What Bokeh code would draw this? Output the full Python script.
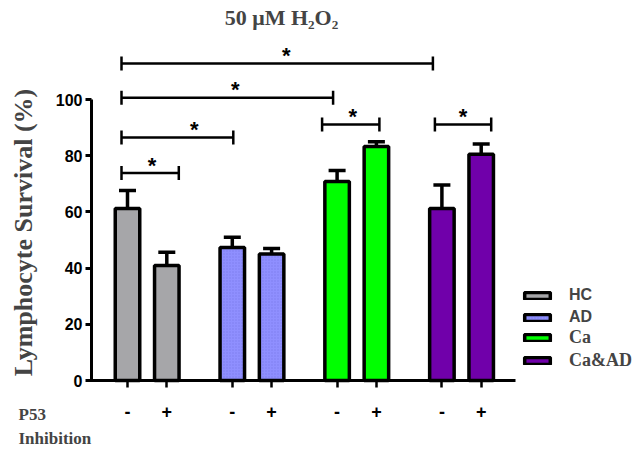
import math
from bokeh.plotting import figure
from bokeh.models import (Range1d, FixedTicker, Whisker, TeeHead, Label, Legend,
                          LegendItem, ColumnDataSource)
from bokeh.core.properties import value
from bokeh.embed import file_html
from bokeh.resources import INLINE

# ---------------- data ----------------
groups = ["HC", "AD", "Ca", "Ca&AD"]
colors = ["#a6a6a9", "#8f8fff", "#00ff00", "#7000aa"]
inhibition_labels = ["-", "+"]
mean_minus = [61.2, 47.3, 70.8, 61.2]   # P53 inhibition "-"
mean_plus = [40.9, 45.0, 83.3, 80.5]    # P53 inhibition "+"
err_minus = [6.4, 3.7, 3.9, 8.4]
err_plus = [4.7, 2.0, 1.7, 3.7]
y_ticks = [0, 20, 40, 60, 80, 100]

# significance brackets: bar index from/to, bracket height, label
sig_from = [0, 0, 0, 0, 4, 6]
sig_to = [6, 4, 2, 1, 5, 7]
sig_height = [112.8, 100.6, 86.5, 73.8, 91.1, 91.1]
sig_text = ["*", "*", "*", "*", "*", "*"]
# pixel nudges of bracket ends and star (as drawn in the original)
sig_left_px = [-6, -6, -6, -6, -15, -7]
sig_right_px = [-9, -4, 1, 12, 3, 10]
sig_star_px = [9, 8, 17, 2, 2, 0]

# ---------------- geometry ----------------
PXX = 13.1            # px per x unit
PXY = 2.81            # px per y unit
GROUP_STEP = 8
PAIR_STEP = 3
X0_PX, Y0_PX = 127, 380   # pixel of first bar centre / of y = 0

W, H = 638, 449
x_start = (0 - X0_PX) / PXX
x_end = (W - X0_PX) / PXX
y_start = (Y0_PX - H) / PXY
y_end = Y0_PX / PXY

def xd(px):
    return (px - X0_PX) / PXX

def yd(py):
    return (Y0_PX - py) / PXY

xs, tops, errs, tick_labels = [], [], [], {}
for g in range(len(groups)):
    for j, (m, e) in enumerate([(mean_minus[g], err_minus[g]), (mean_plus[g], err_plus[g])]):
        x = g * GROUP_STEP + j * PAIR_STEP
        xs.append(x)
        tops.append(m)
        errs.append(e)
        tick_labels[x] = inhibition_labels[j]

p = figure(width=W, height=H, output_backend="svg", toolbar_location=None,
           x_range=Range1d(x_start, x_end), y_range=Range1d(y_start, y_end),
           min_border_left=0, min_border_right=0, min_border_bottom=0,
           min_border_top=0)
p.outline_line_color = None
p.xgrid.visible = False
p.ygrid.visible = False
p.background_fill_color = "white"

# bars, one renderer per group (for the legend)
bar_w = 24.5 / PXX
renderers = []
for g in range(len(groups)):
    src = ColumnDataSource(dict(x=xs[2 * g:2 * g + 2], top=tops[2 * g:2 * g + 2]))
    kw = {}
    if groups[g] == "AD":
        kw = dict(hatch_pattern="dot", hatch_color="#6f6fe0", hatch_scale=3, hatch_alpha=0.6)
    r = p.vbar(x="x", top="top", bottom=0, width=bar_w, source=src,
               fill_color=colors[g], line_color="black", line_width=3.5, **kw)
    renderers.append(r)

# error bars
esrc = ColumnDataSource(dict(base=xs, lower=tops, upper=[t + e for t, e in zip(tops, errs)]))
p.add_layout(Whisker(base="base", lower="lower", upper="upper", source=esrc,
                     line_width=3.5, line_color="black", lower_head=None,
                     upper_head=TeeHead(size=17, line_width=3.5, line_color="black"),
                     level="glyph"))

# significance brackets
bx0, bx1, by, vx, vy0, vy1, sx, sy = [], [], [], [], [], [], [], []
tick_h = 7 / PXY
for f, t, h, lp, rp, sp in zip(sig_from, sig_to, sig_height, sig_left_px, sig_right_px, sig_star_px):
    x0 = xs[f] + lp / PXX
    x1 = xs[t] + rp / PXX
    bx0.append(x0); bx1.append(x1); by.append(h)
    vx += [x0, x1]; vy0 += [h - tick_h, h - tick_h]; vy1 += [h + tick_h, h + tick_h]
    sx.append((x0 + x1) / 2 + sp / PXX)
    sy.append(h + 8 / PXY)
p.segment(x0=bx0, x1=bx1, y0=by, y1=by, line_color="black", line_width=2.5)
p.segment(x0=vx, x1=vx, y0=vy0, y1=vy1, line_color="black", line_width=2.5)
p.text(x=sx, y=sy, text=sig_text, text_font=value("Liberation Sans"),
       text_font_style="bold", text_font_size="22px", text_align="center",
       text_baseline="middle", text_color="black")

# axes (fixed inside the frame)
yaxis_x = xd(91)
yax = p.yaxis[0]
yax.fixed_location = yaxis_x
yax.bounds = (0, 100)
yax.ticker = FixedTicker(ticks=y_ticks)
yax.axis_line_width = 3
yax.major_tick_line_width = 3
yax.major_tick_out = 6
yax.major_tick_in = 0
yax.minor_tick_line_color = None
yax.major_label_standoff = 3
yax.major_label_text_font = "Liberation Sans"
yax.major_label_text_font_style = "bold"
yax.major_label_text_font_size = "16px"
yax.major_label_text_color = "black"

xax = p.xaxis[0]
xax.fixed_location = 0
xax.bounds = (yaxis_x - 1.5 / PXX, xd(515))
xax.ticker = FixedTicker(ticks=xs)
xax.major_label_overrides = tick_labels
xax.axis_line_width = 3
xax.major_tick_line_width = 2.5
xax.major_tick_out = 7
xax.major_tick_in = 0
xax.minor_tick_line_color = None
xax.major_label_standoff = 17
xax.major_label_text_font = "Liberation Sans"
xax.major_label_text_font_style = "bold"
xax.major_label_text_font_size = "18px"
xax.major_label_text_color = "black"

# legends (sans labels for HC/AD, serif labels for Ca/Ca&AD as in the original)
common = dict(padding=0, margin=0, spacing=2, glyph_width=32, glyph_height=9,
              label_height=20, label_standoff=16, border_line_color=None,
              background_fill_alpha=0, label_text_font_style="bold")
leg1 = Legend(items=[LegendItem(label=groups[i], renderers=[renderers[i]]) for i in (0, 1)],
              location=(521, 122), label_text_font="Liberation Sans",
              label_text_font_size="16px", **common)
leg2 = Legend(items=[LegendItem(label=groups[i], renderers=[renderers[i]]) for i in (2, 3)],
              location=(521, 78), label_text_font="Liberation Serif",
              label_text_font_size="18px", **common)
p.add_layout(leg1)
p.add_layout(leg2)

# texts
p.add_layout(Label(x=xd(281), y=yd(17), text="50 μM H₂O₂",
                   text_font="Liberation Serif", text_font_style="bold",
                   text_font_size="22px", text_align="center", text_baseline="middle"))
p.add_layout(Label(x=xd(23), y=yd(232), text="Lymphocyte Survival (%)", angle=math.pi / 2,
                   text_font="Liberation Serif", text_font_style="bold",
                   text_font_size="26px", text_align="center", text_baseline="middle"))
p.add_layout(Label(x=xd(18), y=yd(414), text="P53",
                   text_font="Liberation Serif", text_font_style="bold",
                   text_font_size="17px", text_align="left", text_baseline="middle"))
p.add_layout(Label(x=xd(18), y=yd(438), text="Inhibition",
                   text_font="Liberation Serif", text_font_style="bold",
                   text_font_size="17px", text_align="left", text_baseline="middle"))

open("out.html", "w").write(file_html(p, INLINE))
